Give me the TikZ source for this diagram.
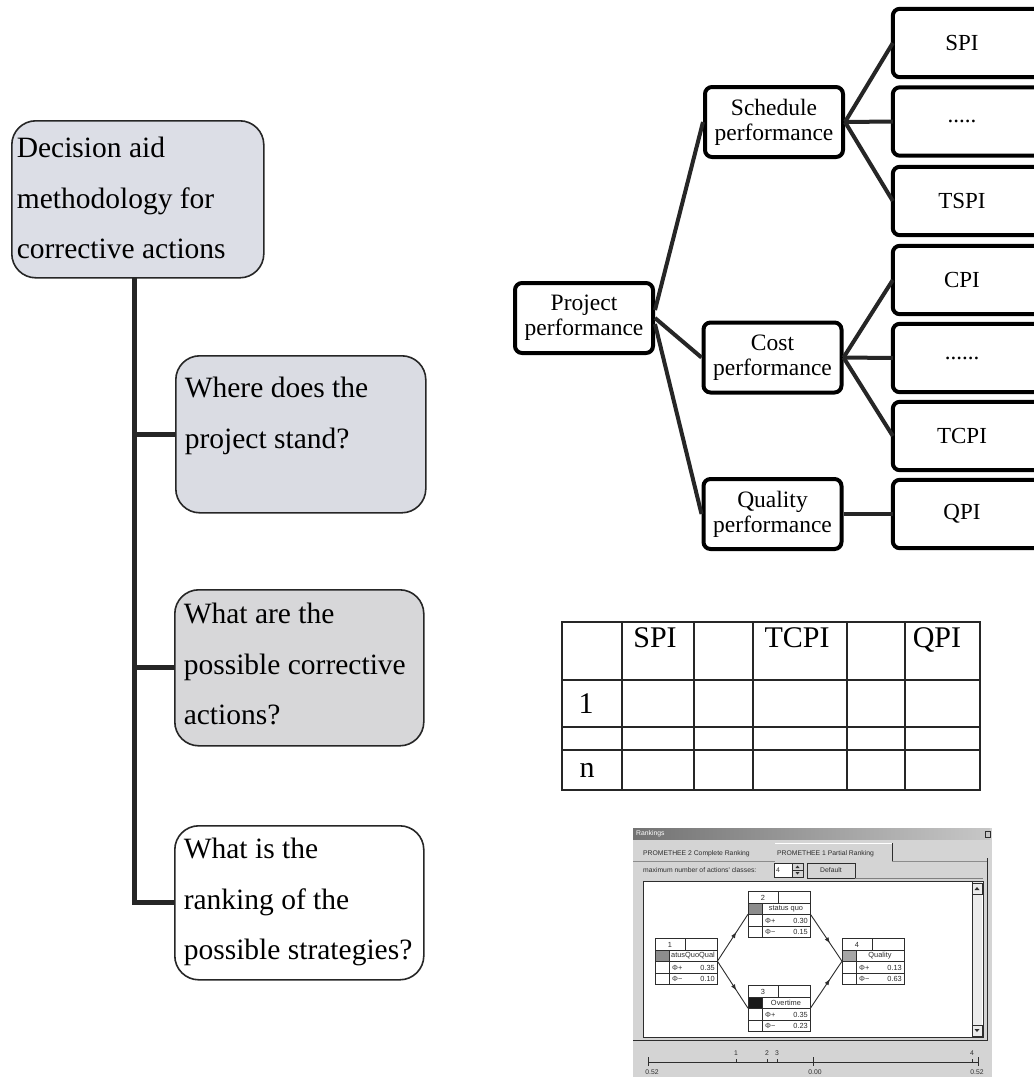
\documentclass[tikz,border=0pt]{standalone}
\usepackage{fontspec}
\setmainfont{Liberation Serif}
\newfontfamily\uifont{Liberation Sans}
\usetikzlibrary{decorations.markings,arrows.meta}

% text of a question box: height, width, top gap, lines
\newcommand\qlines[4]{\parbox[c][#1][t]{#2}{\vspace*{#3}\raggedright #4}}

% one action box of the ranking window: x, y, number, label, phi+, phi-, cell colour, name
\newcommand\rankbox[8]{%
  \node[anchor=north west, minimum width=62, minimum height=46, inner sep=0] (#8) at (#1,#2) {};
  \begin{scope}[shift={(#1,#2)}]
    \fill[white] (0,0) rectangle (62,46);
    \fill[#7] (0,12) rectangle (14,23.5);
    \draw[cell] (0,0) rectangle (62,46);
    \draw[cell] (0,12) -- (62,12) (0,23.5) -- (62,23.5) (0,35) -- (62,35);
    \draw[cell] (14,12) -- (14,46) (30,0) -- (30,12);
    \node[uis] at (15,6.5) {#3};
    \node[uis] at (38,18) {#4};
    \node[uis, anchor=west] at (17,29.5) {Φ+};
    \node[uis, anchor=east] at (60,29.5) {#5};
    \node[uis, anchor=west] at (17,41) {Φ−};
    \node[uis, anchor=east] at (60,41) {#6};
  \end{scope}}

\definecolor{qfillA}{RGB}{220,222,230}
\definecolor{qfillB}{RGB}{218,220,227}
\definecolor{qfillC}{RGB}{215,215,217}
\definecolor{uibg}{RGB}{212,212,212}
\definecolor{uidark}{RGB}{45,45,45}

\begin{document}
\begin{tikzpicture}[x=1pt, y=-1pt,
  qbox/.style={draw=black!85, line width=1.6, rounded corners=24, inner xsep=9, inner ysep=0,
               anchor=north west, font=\fontsize{29.5}{50.5}\selectfont},
  trunk/.style={line width=5, black!85},
  tbox/.style={draw, line width=4, rounded corners=7, minimum width=138, minimum height=70,
               align=center, inner sep=0, font=\fontsize{23.5}{25}\selectfont},
  leaf/.style={minimum width=138, minimum height=68, inner sep=0, font=\fontsize{23}{25}\selectfont},
  leafframe/.style={draw, line width=4, rounded corners=7},
  tline/.style={line width=4, black!85},
  grid/.style={line width=1.1, black!85},
  ttext/.style={font=\fontsize{30}{30}\selectfont, inner sep=0, anchor=base},
  ui/.style={font=\uifont\fontsize{6.8}{7.5}\selectfont, inner sep=0, text=uidark},
  uis/.style={font=\uifont\fontsize{7.4}{8}\selectfont, inner sep=0, text=uidark},
  cell/.style={line width=0.7, uidark},
  rarrow/.style={line width=0.9, uidark, postaction={decorate},
    decoration={markings, mark=at position 0.62 with {\arrow{Latex[length=6pt,width=4.5pt]}}}}
]
\clip (0,0) rectangle (1034,1077);
\fill[white] (0,0) rectangle (1034,1077);

% ---------- methodology column ----------
\node[qbox, fill=qfillA, minimum width=252, minimum height=157, inner xsep=5] (q1) at (11,120)
  {\qlines{157pt}{242pt}{16.5pt}{Decision aid\\methodology for\\corrective actions}};
\node[qbox, fill=qfillB, minimum width=250, minimum height=157] (q2) at (175,355)
  {\qlines{157pt}{232pt}{21.5pt}{Where does the\\project stand?}};
\node[qbox, fill=qfillC, minimum width=249, minimum height=156] (q3) at (174,589)
  {\qlines{156pt}{231pt}{13.5pt}{What are the\\possible corrective\\actions?}};
\node[qbox, fill=white, minimum width=249, minimum height=154] (q4) at (174,825)
  {\qlines{154pt}{231pt}{12.5pt}{What is the\\ranking of the\\possible strategies?}};

\coordinate (trunktop) at (134,277);
\draw[trunk] (trunktop) |- (q4.west);
\draw[trunk] (q2.west) -- (q2.west -| trunktop);
\draw[trunk] (q3.west) -- (q3.west -| trunktop);

% ---------- performance tree ----------
\node[tbox] (proj)  at (584,318)   {Project\\performance};
\node[tbox] (sched) at (774,122)   {Schedule\\performance};
\node[tbox] (cost)  at (772.5,357.5) {Cost\\performance};
\node[tbox] (qual)  at (772.5,514) {Quality\\performance};

\node[leaf] (spi)   at (962,43)    {SPI};
\node[leaf] (sdots) at (962,121.5) {.....};
\node[leaf] (tspi)  at (962,201)   {TSPI};
\node[leaf] (cpi)   at (962,280)   {CPI};
\node[leaf] (cdots) at (962,358)   {......};
\node[leaf] (tcpi)  at (962,436)   {TCPI};
\node[leaf] (qpi)   at (962,514)   {QPI};
\foreach \n in {spi,sdots,tspi,cpi,cdots,tcpi,qpi}
  \draw[leafframe] (\n.north west) rectangle ([xshift=40]\n.south east);

\draw[tline] ([yshift=8]proj.east) -- (sched.west);
\draw[tline] (proj.east) -- (cost.west);
\draw[tline] ([yshift=-6]proj.east) -- (qual.west);
\draw[tline] (sched.east) -- (spi.west);
\draw[tline] (sched.east) -- (sdots.west);
\draw[tline] (sched.east) -- (tspi.west);
\draw[tline] (cost.east) -- (cpi.west);
\draw[tline] (cost.east) -- (cdots.west);
\draw[tline] (cost.east) -- (tcpi.west);
\draw[tline] (qual.east) -- (qpi.west);

% ---------- evaluation table ----------
\draw[grid] (562,622) rectangle (980,790);
\foreach \x in {622,694,753,847,905} \draw[grid] (\x,622) -- (\x,790);
\foreach \y in {680,727,750} \draw[grid] (562,\y) -- (980,\y);
\node[ttext] (hspi)  at (655,647) {SPI};
\node[ttext] (htcpi) at (797,647) {TCPI};
\node[ttext] (hqpi)  at (937,647) {QPI};
\node[ttext] (rfirst) at (586,713) {1};
\node[ttext] (rlast)  at (587,777) {n};

% ---------- ranking window ----------
\fill[uibg] (633,828) rectangle (992,1077);
\shade[left color=black!55, right color=black!22] (633,828) rectangle (990,839);
\node[ui, anchor=west, text=white] (wtitle) at (636,833.5) {Rankings};
\draw[uidark, line width=0.8] (985,831) rectangle (990,837);

\node[ui, anchor=base west] (tabB) at (643,855) {PROMETHEE 2 Complete Ranking};
\node[ui, anchor=base west] (tabA) at (777,855) {PROMETHEE 1 Partial Ranking};
\draw[uidark, line width=0.9] (892,843) -- (892,861);
\draw[white, line width=0.8] (775,843) -- (892,843);
\draw[black!45, line width=0.6] (633,861) -- (775,861) (892,861) -- (987,861);

\node[ui, anchor=base west] (maxlbl) at (643,872) {maximum number of actions' classes:};
\draw[cell, fill=white] (774,863) rectangle (792,877);
\node[ui, anchor=west] (spinval) at (776,870) {4};
\draw[cell] (792,863) rectangle (803,877) (792,870) -- (803,870);
\fill[uidark] (795.5,868) -- (799.5,868) -- (797.5,865.5) -- cycle;
\fill[uidark] (795.5,872) -- (799.5,872) -- (797.5,874.5) -- cycle;
\draw[cell] (807,863) rectangle (855,878);
\draw[uidark, line width=1] (807,878) -- (855,878) -- (855,863);
\node[ui] (defbtn) at (831,870.5) {Default};
\draw[black!50, line width=0.6] (855,878) -- (983,878);

\draw[uidark, line width=0.9, fill=white] (643,881) rectangle (983,1037);
\fill[black!8] (972,882) rectangle (982,1036);
\draw[cell] (972,882) -- (972,1036);
\draw[cell] (972,883) rectangle (982,894) (972,1025) rectangle (982,1036);
\fill[uidark] (974.5,890) -- (979.5,890) -- (977,887) -- cycle;
\fill[uidark] (974.5,1029) -- (979.5,1029) -- (977,1032) -- cycle;
\draw[uidark, line width=0.9] (987,858) -- (987,1040) -- (633,1040);

\rankbox{655}{938}{1}{atusQuoQual}{0.35}{0.10}{black!45}{actA}
\rankbox{748}{891}{2}{status quo}{0.30}{0.15}{black!45}{actB}
\rankbox{748}{985}{3}{Overtime}{0.35}{0.23}{black!90}{actC}
\rankbox{842}{938}{4}{Quality}{0.13}{0.63}{black!35}{actD}
\draw[rarrow] (actA.east) -- (actB.west);
\draw[rarrow] (actA.east) -- (actC.west);
\draw[rarrow] (actB.east) -- (actD.west);
\draw[rarrow] (actC.east) -- (actD.west);

% phi axis
\draw[uidark, line width=0.9] (648,1062) -- (978,1062);
\foreach \x in {648,813,978} \draw[uidark, line width=0.9] (\x,1057) -- (\x,1066);
\foreach \x in {736,767,777,972} \draw[uidark, line width=0.6] (\x,1059) -- (\x,1062);
\node[ui] (ax1) at (736,1053) {1};
\node[ui] (ax2) at (767,1053) {2};
\node[ui] (ax3) at (777,1053) {3};
\node[ui] (ax4) at (972,1053) {4};
\node[ui] (axl) at (652,1072) {0.52};
\node[ui] (axm) at (815,1072) {0.00};
\node[ui] (axr) at (977,1072) {0.52};
\end{tikzpicture}
\end{document}
